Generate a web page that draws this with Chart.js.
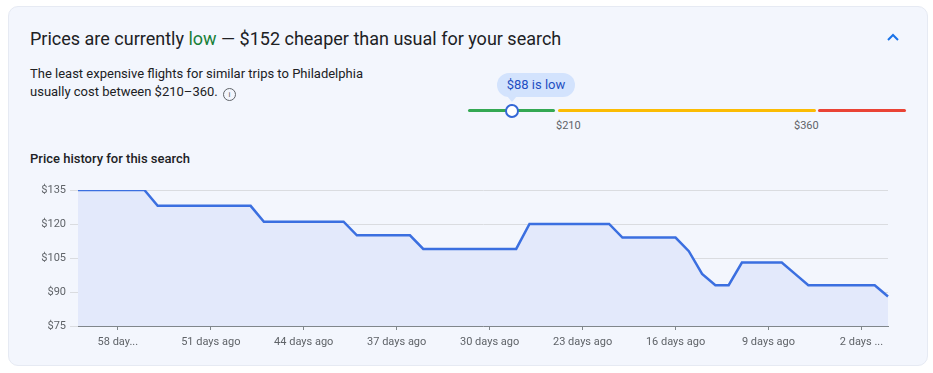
<!DOCTYPE html>
<html>
<head>
<meta charset="utf-8">
<script src="https://cdn.jsdelivr.net/npm/chart.js"></script>
<style>
  body {
    margin: 0;
    background: #ffffff;
    font-family: Roboto, 'Noto Sans', sans-serif;
    width: 933px;
    height: 373px;
    overflow: hidden;
  }

  #card {
    position: absolute;
    left: 8px;
    top: 6px;
    width: 918px;
    height: 358px;
    background: #f3f6fd;
    border: 1px solid #e6eaf3;
    border-radius: 10px;
  }

  .abs {
    position: absolute;
    white-space: nowrap;
  }

  #title {
    left: 30px;
    top: 27px;
    font-size: 18px;
    color: #202124;
    line-height: 24px;
  }
  #title .low {
    color: #188038;
  }

  #chevron {
    left: 887px;
    top: 33px;
    width: 12px;
    height: 8px;
  }

  #desc {
    left: 30px;
    top: 65px;
    font-size: 13px;
    line-height: 18px;
    color: #202124;
  }
  .info {
    display: inline-block;
    width: 11px;
    height: 11px;
    border: 1px solid #5f6368;
    border-radius: 50%;
    font-size: 8px;
    line-height: 11px;
    text-align: center;
    color: #5f6368;
    vertical-align: -1px;
    margin-left: 2px;
  }

  .bar {
    position: absolute;
    top: 109px;
    height: 3px;
    border-radius: 2px;
  }

  #bubble {
    left: 497px;
    top: 73px;
    width: 78px;
    height: 24px;
    background: #d3e3fd;
    border-radius: 12px;
    font-size: 13px;
    line-height: 24px;
    text-align: center;
    color: #1f4fc2;
  }
  #tail {
    left: 507px;
    top: 96px;
    width: 0;
    height: 0;
    border-left: 5px solid transparent;
    border-right: 5px solid transparent;
    border-top: 6px solid #d3e3fd;
  }

  #knob {
    left: 505px;
    top: 104px;
    width: 10px;
    height: 10px;
    border: 2px solid #3367d6;
    border-radius: 50%;
    background: #ffffff;
  }

  .rlabel {
    top: 119px;
    font-size: 11px;
    color: #5f6368;
  }

  #subtitle {
    left: 30px;
    top: 151px;
    font-size: 13px;
    font-weight: 500;
    color: #202124;
  }

  #chartBox {
    position: absolute;
    left: 20px;
    top: 178px;
    width: 880px;
    height: 182px;
  }
</style>
</head>
<body>
<div id="card"></div>

<div class="abs" id="title">Prices are currently <span class="low">low</span> — $152 cheaper than usual for your search</div>
<svg class="abs" id="chevron" viewBox="0 0 12 8"><path d="M1 7 L6 2 L11 7" fill="none" stroke="#1a73e8" stroke-width="2"/></svg>

<div class="abs" id="desc">The least expensive flights for similar trips to Philadelphia<br>usually cost between $210–360. <span class="info">i</span></div>

<div class="bar" style="left:468px;width:87px;background:#34a853"></div>
<div class="bar" style="left:558px;width:258px;background:#fbbc04"></div>
<div class="bar" style="left:818px;width:88px;background:#ea4335"></div>
<div class="abs" id="bubble">$88 is low</div>
<div class="abs" id="tail"></div>
<div class="abs" id="knob"></div>
<div class="abs rlabel" style="left:556px">$210</div>
<div class="abs rlabel" style="left:794px">$360</div>

<div class="abs" id="subtitle">Price history for this search</div>

<div id="chartBox"><canvas id="priceChart"></canvas></div>

<script>
  // days ago, oldest first
  const daysAgo = [61, 60, 59, 58, 57, 56, 55, 54, 53, 52, 51, 50, 49, 48, 47, 46,
    45, 44, 43, 42, 41, 40, 39, 38, 37, 36, 35, 34, 33, 32, 31, 30, 29, 28, 27, 26,
    25, 24, 23, 22, 21, 20, 19, 18, 17, 16, 15, 14, 13, 12, 11, 10, 9, 8, 7, 6,
    5, 4, 3, 2, 1, 0];

  const prices = [135, 135, 135, 135, 135, 135, 128, 128, 128, 128, 128, 128, 128, 128,
    121, 121, 121, 121, 121, 121, 121, 115, 115, 115, 115, 115, 109, 109, 109, 109,
    109, 109, 109, 109, 120, 120, 120, 120, 120, 120, 120, 114, 114, 114, 114, 114,
    108, 98, 93, 93, 103, 103, 103, 103, 98, 93, 93, 93, 93, 93, 93, 88];

  const labelDays = [58, 51, 44, 37, 30, 23, 16, 9, 2];
  const labelText = ['58 day...', '51 days ago', '44 days ago', '37 days ago', '30 days ago',
    '23 days ago', '16 days ago', '9 days ago', '2 days ...'];

  const yTicks = [75, 90, 105, 120, 135];

  var axisColor = '#80868b';
  var gridColor = '#dadce0';
  var textColor = '#5f6368';

  function labelFor(index) {
    var k = labelDays.indexOf(daysAgo[index]);
    return k >= 0 ? labelText[k] : '';
  }

  var data = {
    labels: daysAgo,
    datasets: [{
      data: prices,
      borderColor: '#3b6fe0',
      borderWidth: 2.5,
      backgroundColor: '#e3e9fb',
      fill: 'start',
      tension: 0,
      pointRadius: 0,
      pointHoverRadius: 0
    }]
  };

  var config = {
    type: 'line',
    data: data,
    options: {
      responsive: true,
      maintainAspectRatio: false,
      animation: false,
      devicePixelRatio: 1,
      layout: {
        padding: { top: 12, right: 12, left: 0, bottom: 0 }
      },
      plugins: {
        legend: { display: false },
        tooltip: { enabled: false }
      },
      scales: {
        x: {
          offset: false,
          afterFit: function (scale) { scale.height = 34; },
          border: { display: true, color: axisColor, width: 1 },
          grid: {
            drawOnChartArea: false,
            drawTicks: true,
            tickLength: 4,
            tickColor: function (ctx) {
              return labelFor(ctx.index) ? axisColor : 'rgba(0,0,0,0)';
            }
          },
          ticks: {
            autoSkip: false,
            maxRotation: 0,
            minRotation: 0,
            padding: 6,
            color: textColor,
            font: { family: 'Roboto', size: 11 },
            callback: function (value, index) { return labelFor(index); }
          }
        },
        y: {
          min: yTicks[0],
          max: yTicks[yTicks.length - 1],
          afterFit: function (scale) { scale.width = 58; },
          afterBuildTicks: function (scale) {
            scale.ticks = yTicks.map(function (v) { return { value: v }; });
          },
          border: { display: true, color: axisColor, width: 1 },
          grid: {
            color: gridColor,
            tickColor: gridColor,
            tickLength: 8
          },
          ticks: {
            padding: 4,
            color: textColor,
            font: { family: 'Roboto', size: 11 },
            callback: function (value) { return '$' + value; }
          }
        }
      }
    }
  };

  var priceChart = new Chart(document.getElementById('priceChart'), config);
</script>
</body>
</html>
